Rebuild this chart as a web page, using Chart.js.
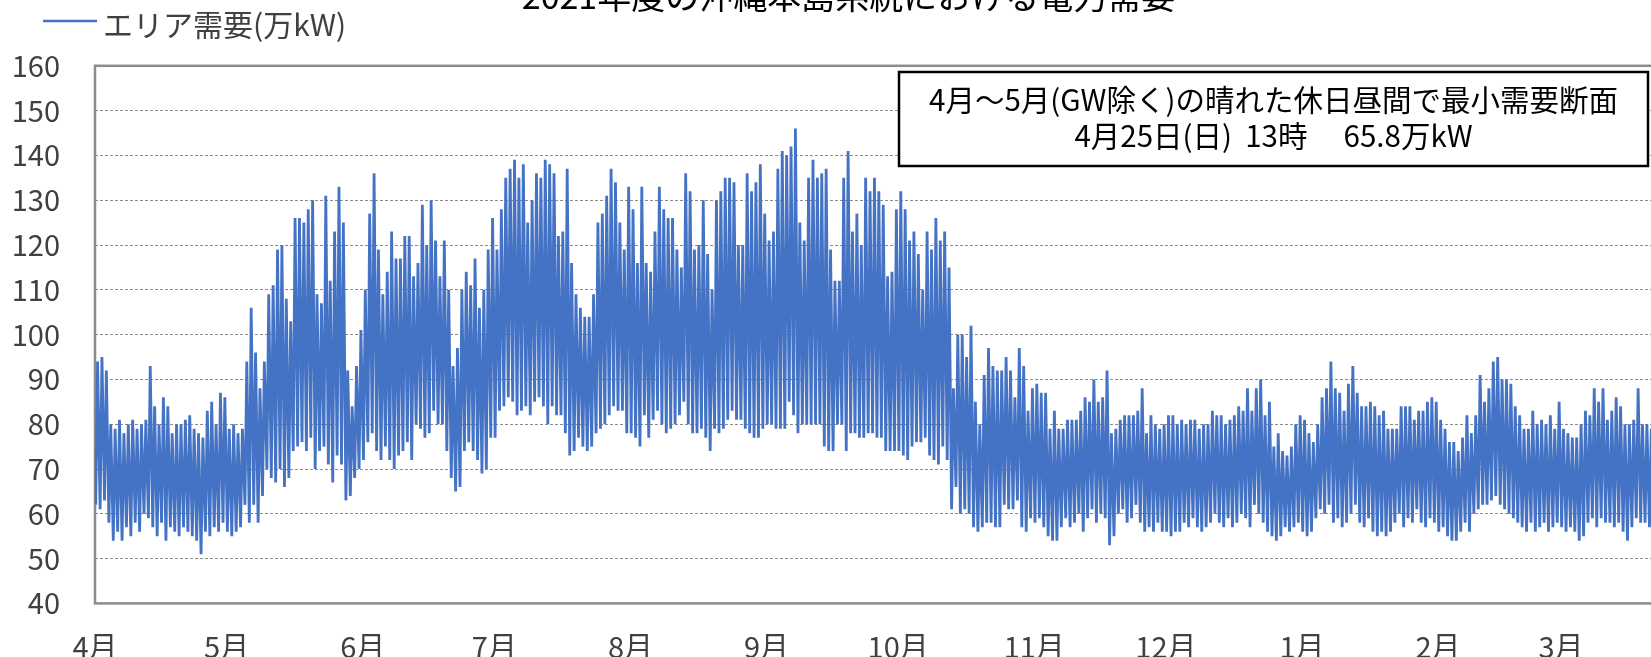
<!DOCTYPE html>
<html lang="ja">
<head>
<meta charset="utf-8">
<title>2021年度の沖縄本島系統における電力需要</title>
<script src="https://cdn.jsdelivr.net/npm/chart.js@4/dist/chart.umd.min.js"></script>
<style>
  html, body { margin: 0; padding: 0; background: #fff; overflow: hidden; }
  #wrap { position: relative; width: 1651px; height: 657px; overflow: hidden; }
  #demand { position: absolute; left: 0; top: -30px; }
</style>
</head>
<body>
<div id="wrap"><canvas id="demand" width="1720" height="700"></canvas></div>
<script>
'use strict';

// 月ラベル（年度なので4月始まり）と、各月1日が4/1から何日目か
var monthLabels = ['4月', '5月', '6月', '7月', '8月', '9月', '10月', '11月', '12月', '1月', '2月', '3月'];
var monthStartDay = [0, 30, 61, 91, 122, 153, 183, 214, 244, 275, 306, 334];

var yMin = 40, yMax = 160, yStep = 10;

// 日ごとの昼のピークと夜の底（万kW）、グラフから読み取り
var peakApr = [94, 95, 92, 80, 79, 81, 78, 80, 81, 79, 80, 81, 93, 84, 80, 86, 84, 78, 80, 80, 81, 82, 79, 78, 77, 83, 85, 80, 87, 86];
var baseApr = [62, 61, 63, 58, 54, 56, 54, 57, 55, 58, 56, 60, 59, 57, 55, 58, 54, 57, 56, 55, 57, 56, 55, 54, 51, 56, 55, 57, 56, 58];
var peakMay = [79, 80, 78, 79, 94, 106, 96, 88, 94, 109, 111, 119, 120, 108, 103, 126, 126, 125, 128, 130, 109, 107, 131, 112, 123, 133, 125, 92, 84, 93, 101];
var baseMay = [56, 55, 56, 57, 62, 58, 62, 58, 64, 70, 68, 67, 70, 66, 68, 74, 75, 76, 74, 77, 70, 74, 75, 71, 67, 73, 71, 63, 64, 68, 70];
var peakJun = [110, 127, 136, 119, 109, 114, 123, 117, 117, 122, 122, 113, 116, 129, 120, 130, 121, 113, 121, 110, 93, 97, 110, 114, 111, 117, 106, 110, 119, 126];
var baseJun = [72, 76, 78, 74, 72, 75, 72, 70, 73, 74, 76, 72, 80, 79, 77, 78, 83, 80, 80, 74, 68, 65, 66, 74, 76, 74, 72, 69, 70, 77];
var peakJul = [119, 128, 135, 137, 139, 135, 138, 125, 130, 136, 135, 139, 138, 136, 122, 123, 137, 116, 109, 106, 104, 104, 109, 125, 127, 131, 137, 134, 125, 119, 133];
var baseJul = [77, 83, 84, 86, 85, 82, 83, 84, 82, 85, 86, 84, 80, 84, 82, 82, 78, 73, 74, 77, 75, 74, 75, 78, 79, 80, 82, 84, 83, 83, 78];
var peakAug = [128, 116, 133, 116, 114, 123, 133, 128, 126, 126, 119, 115, 136, 132, 119, 120, 130, 118, 110, 130, 132, 135, 135, 134, 120, 120, 136, 132, 134, 138, 127];
var baseAug = [78, 77, 75, 82, 77, 81, 83, 80, 78, 79, 80, 82, 85, 80, 78, 78, 79, 77, 74, 79, 78, 79, 81, 83, 81, 81, 79, 78, 77, 77, 79];
var peakSep = [121, 123, 137, 141, 140, 142, 146, 125, 121, 135, 139, 135, 136, 137, 119, 112, 112, 135, 141, 123, 127, 120, 135, 132, 135, 132, 129, 113, 114, 128];
var baseSep = [80, 80, 79, 79, 79, 85, 82, 78, 80, 80, 80, 80, 80, 75, 74, 74, 80, 80, 74, 78, 78, 77, 77, 78, 78, 77, 77, 74, 74, 74];
var peakOct = [132, 128, 121, 123, 118, 110, 123, 119, 126, 121, 123, 115, 88, 100, 100, 95, 102, 85, 80, 91, 97, 93, 92, 92, 95, 92, 86, 97, 93, 83, 88];
var baseOct = [74, 73, 72, 75, 76, 76, 77, 73, 72, 71, 75, 72, 61, 66, 60, 61, 60, 57, 56, 57, 58, 58, 57, 57, 62, 61, 61, 63, 57, 56, 59];
var peakNov = [89, 87, 87, 79, 83, 79, 79, 81, 81, 81, 83, 86, 85, 90, 85, 86, 92, 78, 79, 81, 82, 82, 82, 83, 88, 78, 82, 80, 79, 80];
var baseNov = [58, 59, 57, 55, 54, 54, 57, 59, 57, 58, 60, 56, 59, 61, 58, 60, 59, 53, 55, 60, 61, 58, 59, 62, 58, 56, 57, 56, 58, 56];
var peakDec = [82, 82, 80, 81, 80, 81, 81, 79, 80, 80, 83, 82, 82, 80, 81, 82, 84, 83, 88, 83, 88, 90, 82, 85, 75, 78, 74, 73, 75, 80, 82];
var baseDec = [56, 55, 56, 56, 58, 57, 59, 57, 56, 57, 58, 60, 58, 57, 59, 57, 58, 60, 59, 57, 62, 60, 58, 56, 55, 54, 55, 57, 56, 57, 58];
var peakJan = [81, 78, 76, 80, 86, 88, 94, 88, 87, 83, 89, 93, 87, 84, 84, 85, 84, 82, 83, 79, 79, 79, 84, 84, 84, 81, 83, 83, 85, 86, 85];
var baseJan = [56, 55, 56, 59, 61, 60, 62, 58, 59, 57, 58, 60, 62, 58, 57, 59, 56, 55, 56, 55, 56, 58, 60, 57, 59, 58, 61, 58, 57, 59, 58];
var peakFeb = [81, 79, 76, 76, 74, 77, 82, 78, 82, 91, 85, 88, 94, 95, 90, 90, 89, 84, 82, 79, 79, 83, 80, 81, 80, 82, 79, 85];
var baseFeb = [56, 57, 55, 54, 54, 56, 58, 56, 60, 61, 62, 62, 63, 64, 62, 61, 60, 59, 58, 57, 56, 58, 56, 57, 58, 56, 57, 58];
var peakMar = [79, 78, 77, 77, 80, 83, 82, 88, 85, 88, 81, 83, 86, 84, 80, 80, 81, 88, 80, 80, 79, 78, 80, 77, 79, 78, 77, 80, 76, 77, 75];
var baseMar = [57, 56, 57, 56, 54, 55, 58, 59, 57, 59, 58, 58, 57, 58, 56, 54, 57, 59, 58, 58, 57, 56, 57, 55, 56, 57, 56, 55, 57, 56, 55];

// ピークは昼過ぎ、底は明け方
var peakHour = 14, baseHour = 4;

var noteLines = ['4月～5月(GW除く)の晴れた休日昼間で最小需要断面', '4月25日(日)  13時\u3000 65.8万kW'];

var peaks = [].concat(peakApr, peakMay, peakJun, peakJul, peakAug, peakSep, peakOct, peakNov, peakDec, peakJan, peakFeb, peakMar);
var bases = [].concat(baseApr, baseMay, baseJun, baseJul, baseAug, baseSep, baseOct, baseNov, baseDec, baseJan, baseFeb, baseMar);

var points = [];
for (var d = 0; d < peaks.length; d++) {
    points.push({x: d + baseHour / 24, y: bases[d]});
    points.push({x: d + peakHour / 24, y: peaks[d]});
}

var FONT = '"Noto Sans CJK JP", "Noto Sans", sans-serif';
Chart.defaults.font.family = FONT;
Chart.defaults.color = '#404040';

// プロットエリアの枠
var frame = {
    id: 'frame',
    beforeDatasetsDraw: function(chart) {
        var a = chart.chartArea, ctx = chart.ctx;
        ctx.save();
        ctx.strokeStyle = '#8c8c8c';
        ctx.lineWidth = 2.5;
        ctx.strokeRect(a.left, a.top, a.right - a.left, a.bottom - a.top);
        ctx.restore();
    }
};

// 左上の凡例（線＋系列名）
var legendLine = {
    id: 'legendLine',
    afterDraw: function(chart) {
        var ctx = chart.ctx, ds = chart.data.datasets[0];
        ctx.save();
        ctx.strokeStyle = ds.borderColor;
        ctx.lineWidth = 2.5;
        ctx.beginPath();
        ctx.moveTo(43, 51);
        ctx.lineTo(97, 51);
        ctx.stroke();
        ctx.font = '30px ' + FONT;
        ctx.fillStyle = '#404040';
        ctx.textBaseline = 'middle';
        ctx.fillText(ds.label, 103, 55);
        ctx.restore();
    }
};

// 右上の注記ボックス
var note = {
    id: 'note',
    afterDraw: function(chart) {
        var ctx = chart.ctx;
        var left = 899, top = 102, w = 749, h = 94;
        ctx.save();
        ctx.fillStyle = '#fff';
        ctx.fillRect(left, top, w, h);
        ctx.strokeStyle = '#000';
        ctx.lineWidth = 2.5;
        ctx.strokeRect(left, top, w, h);
        ctx.fillStyle = '#000';
        ctx.font = '29.5px ' + FONT;
        ctx.textAlign = 'center';
        ctx.textBaseline = 'middle';
        ctx.fillText(noteLines[0], left + w / 2, 130);
        ctx.fillText(noteLines[1], left + w / 2, 166);
        ctx.restore();
    }
};

new Chart(document.getElementById('demand'), {
    type: 'line',
    data: {
        datasets: [{
            label: 'エリア需要(万kW)',
            data: points,
            borderColor: '#4472C4',
            borderWidth: 2.8,
            pointRadius: 0,
            tension: 0,
            fill: false
        }]
    },
    options: {
        responsive: false,
        animation: false,
        layout: {padding: {left: 0, right: 23, top: 0, bottom: 0}},
        plugins: {
            legend: {display: false},
            tooltip: {enabled: false},
            title: {
                display: true,
                text: '2021年度の沖縄本島系統における電力需要',
                color: '#000',
                font: {size: 34, weight: 'normal'},
                padding: {top: 6, bottom: 49}
            }
        },
        scales: {
            x: {
                type: 'linear',
                min: 0,
                max: 365,
                grid: {display: false, drawTicks: false},
                border: {display: false},
                afterBuildTicks: function(scale) {
                    scale.ticks = monthStartDay.map(function(v) { return {value: v}; });
                },
                afterFit: function(scale) { scale.height = 66.6; },
                ticks: {
                    autoSkip: false,
                    maxRotation: 0,
                    padding: 26,
                    font: {size: 29},
                    callback: function(v) { return monthLabels[monthStartDay.indexOf(v)]; }
                }
            },
            y: {
                min: yMin,
                max: yMax,
                afterFit: function(scale) { scale.width = 95; },
                grid: {color: '#8c8c8c', lineWidth: 1, drawTicks: false},
                border: {display: false, dash: [3, 2]},
                ticks: {stepSize: yStep, padding: 35, font: {size: 29}}
            }
        }
    },
    plugins: [frame, legendLine, note]
});
</script>
</body>
</html>
